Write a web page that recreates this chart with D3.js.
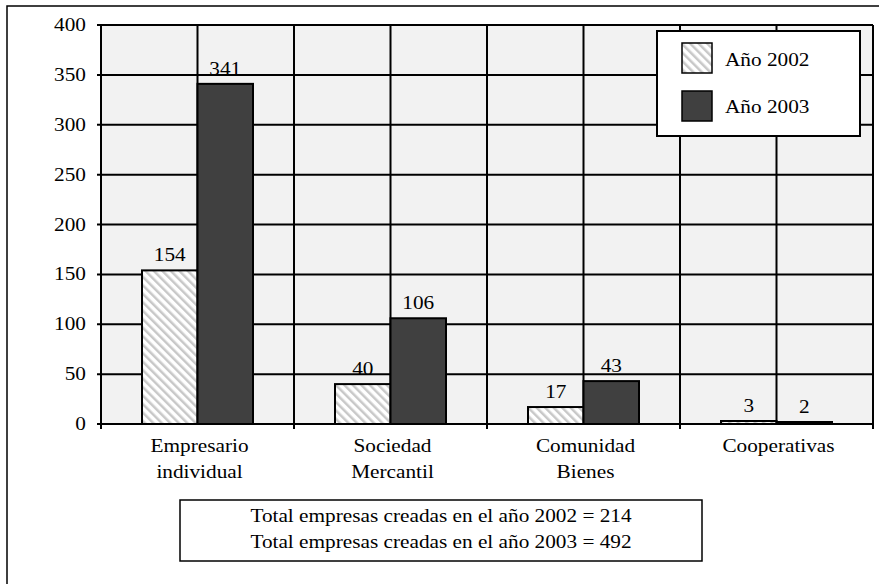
<!DOCTYPE html>
<html>
<head>
<meta charset="utf-8">
<script src="https://d3js.org/d3.v7.min.js"></script>
<style>
  body { margin: 0; background: #fff; }
  text { font-family: "Liberation Serif", "Times New Roman", serif; font-size: 18.5px; fill: #000; }
</style>
</head>
<body>
<div id="chart"></div>
<script>
// data
var categories = [["Empresario", "individual"], ["Sociedad", "Mercantil"], ["Comunidad", "Bienes"], ["Cooperativas"]];
var series = ["Año 2002", "Año 2003"];
var values2002 = [154, 40, 17, 3];
var values2003 = [341, 106, 43, 2];
var yTicks = [0, 50, 100, 150, 200, 250, 300, 350, 400];
var totals = ["Total empresas creadas en el año 2002 = 214", "Total empresas creadas en el año 2003 = 492"];

var W = 879, H = 584;
var SX = 1.15; // text in the picture is slightly stretched

var svg = d3.select("#chart").append("svg")
  .attr("width", W)
  .attr("height", H);

// stripe pattern for 2002
var pat = svg.append("defs").append("pattern")
  .attr("id", "stripes")
  .attr("width", 6)
  .attr("height", 6)
  .attr("patternUnits", "userSpaceOnUse")
  .attr("patternTransform", "rotate(-45)");
pat.append("rect").attr("width", 6).attr("height", 6).attr("fill", "#fff");
pat.append("rect").attr("width", 2.5).attr("height", 6).attr("fill", "#c8c8c8");

function txt(g, x, y, s, anchor) {
  return g.append("text")
    .attr("transform", "translate(" + x + "," + y + ") scale(" + SX + ",1)")
    .attr("text-anchor", anchor || "middle")
    .text(s);
}

// outer frame
svg.append("rect")
  .attr("x", 7).attr("y", 6)
  .attr("width", W + 10).attr("height", H + 10)
  .attr("fill", "none").attr("stroke", "#000").attr("stroke-width", 1.5);

var pLeft = 101, pRight = 873, pTop = 25, pBottom = 424;

var x = d3.scaleBand().domain(d3.range(categories.length)).range([pLeft, pRight]).padding(0);
var barW = 55.5;
var x1 = d3.scaleBand().domain(series).range([0, barW * 2]);
var y = d3.scaleLinear().domain([0, 400]).range([pBottom, pTop]);

// plot background
svg.append("rect")
  .attr("x", pLeft).attr("y", pTop)
  .attr("width", pRight - pLeft).attr("height", pBottom - pTop)
  .attr("fill", "#f2f2f2");

var grid = svg.append("g").attr("stroke", "#000").attr("stroke-width", 2);
// horizontal gridlines
grid.selectAll(".hg").data(yTicks).enter().append("line")
  .attr("x1", pLeft - 4).attr("x2", pRight)
  .attr("y1", function (d) { return y(d); })
  .attr("y2", function (d) { return y(d); });
// vertical gridlines: band edges and band centres
var vx = [];
categories.forEach(function (c, i) {
  vx.push(x(i));
  vx.push(x(i) + x.bandwidth() / 2);
});
vx.push(pRight);
grid.selectAll(".vg").data(vx).enter().append("line")
  .attr("x1", function (d) { return d; })
  .attr("x2", function (d) { return d; })
  .attr("y1", pTop).attr("y2", pBottom);
// ticks below x axis
grid.selectAll(".xt").data(d3.range(categories.length + 1)).enter().append("line")
  .attr("x1", function (d) { return pLeft + d * x.bandwidth(); })
  .attr("x2", function (d) { return pLeft + d * x.bandwidth(); })
  .attr("y1", pBottom).attr("y2", pBottom + 5);

// y labels
var yl = svg.append("g");
yTicks.forEach(function (t) {
  txt(yl, 86, y(t) + 6, String(t), "end");
});

// bars
var bars = svg.append("g");
categories.forEach(function (c, i) {
  var x0 = x(i) + (x.bandwidth() - barW * 2) / 2;
  var rows = [
    { s: series[0], v: values2002[i], fill: "url(#stripes)" },
    { s: series[1], v: values2003[i], fill: "#404040" }
  ];
  rows.forEach(function (r) {
    bars.append("rect")
      .attr("x", x0 + x1(r.s))
      .attr("y", y(r.v))
      .attr("width", x1.bandwidth())
      .attr("height", y(0) - y(r.v))
      .attr("fill", r.fill)
      .attr("stroke", "#000")
      .attr("stroke-width", 2);
    txt(bars, x0 + x1(r.s) + x1.bandwidth() / 2, y(r.v) - 9, String(r.v));
  });
});

// category labels
var cl = svg.append("g");
categories.forEach(function (c, i) {
  var cx = x(i) + x.bandwidth() / 2 + 2;
  c.forEach(function (line, j) {
    txt(cl, cx, 452 + j * 26, line);
  });
});

// legend
var lg = svg.append("g");
lg.append("rect")
  .attr("x", 657).attr("y", 31)
  .attr("width", 203).attr("height", 105)
  .attr("fill", "#fff").attr("stroke", "#000").attr("stroke-width", 2);
series.forEach(function (s, i) {
  lg.append("rect")
    .attr("x", 682).attr("y", 43 + i * 48)
    .attr("width", 30).attr("height", 30)
    .attr("fill", i === 0 ? "url(#stripes)" : "#404040")
    .attr("stroke", "#000").attr("stroke-width", 1.5);
  txt(lg, 725, 66 + i * 47, s, "start");
});

// totals box
var tb = svg.append("g");
tb.append("rect")
  .attr("x", 180).attr("y", 500)
  .attr("width", 522).attr("height", 61)
  .attr("fill", "#fff").attr("stroke", "#000").attr("stroke-width", 1.5);
totals.forEach(function (t, i) {
  txt(tb, 441, 522 + i * 26, t);
});
</script>
</body>
</html>
